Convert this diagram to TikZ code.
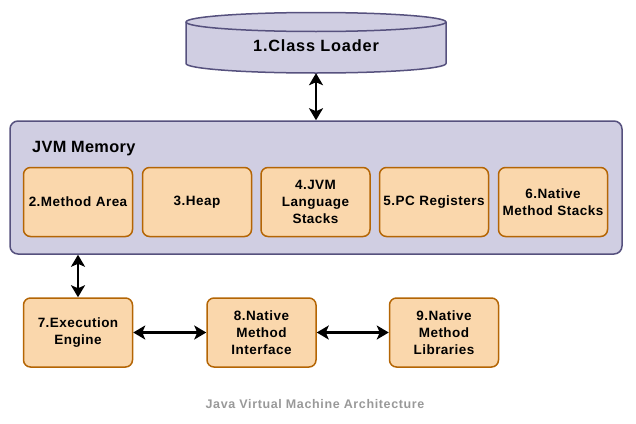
\documentclass[tikz,border=0pt]{standalone}
\usepackage{fontspec}
\setmainfont{Liberation Sans}
\usetikzlibrary{arrows.meta}
\definecolor{memfill}{HTML}{D0CEE2}
\definecolor{memdraw}{HTML}{56517E}
\definecolor{boxfill}{HTML}{FAD7AC}
\definecolor{boxdraw}{HTML}{B46504}
\definecolor{captioncol}{HTML}{999999}
\newfontfamily\boxfont[LetterSpace=3.5]{Liberation Sans Bold}
\newfontfamily\titlefont[LetterSpace=5]{Liberation Sans Bold}
\newfontfamily\memfont[LetterSpace=2]{Liberation Sans Bold}
\newfontfamily\capfont[LetterSpace=5]{Liberation Sans Bold}
\begin{document}
\begin{tikzpicture}[x=1pt,y=-1pt,
  membox/.style={draw=memdraw, fill=memfill, line width=1.5pt, rounded corners=8pt,
    minimum width=612pt, minimum height=133pt, inner sep=0pt},
  unit/.style={draw=boxdraw, fill=boxfill, line width=1.5pt, rounded corners=7pt,
    minimum width=109pt, minimum height=69pt, text width=107pt, align=center,
    font=\boxfont\fontsize{13.5}{16.7}\selectfont, inner sep=0pt},
  cyl/.style={draw=memdraw, fill=memfill, line width=1.5pt},
  biarrow/.style={line width=2.5pt, {Stealth[length=12pt,width=14pt,inset=3pt]}-{Stealth[length=12pt,width=14pt,inset=3pt]}},
  title/.style={inner sep=0pt}
]
\useasboundingbox (0,0) rectangle (636,423);
% Class loader cylinder
\draw[cyl] (186,22) -- (186,63.5) arc[start angle=180,end angle=360,x radius=130pt,y radius=9.5pt]
  -- (446,22) arc[start angle=0,end angle=180,x radius=130pt,y radius=9.5pt] -- cycle;
\draw[cyl, fill=none] (186,22) arc[start angle=180,end angle=360,x radius=130pt,y radius=9.5pt];
\node[title, minimum width=260pt, minimum height=60pt] (cl) at (316,43) {};
\node[title, font=\titlefont\fontsize{16.3}{19}\selectfont] (cltext) at (316,46) {1.Class Loader};
% JVM memory
\node[membox] (mem) at (316,187.5) {};
\node[title, anchor=west, font=\memfont\fontsize{16.3}{19}\selectfont] (memlabel) at (32,149) {JVM Memory};
\node[unit] (ma) at (78,202) {2.Method Area};
\node[unit] (hp) at (197,202) {3.Heap};
\node[unit] (js) at (315.5,202) {4.JVM\\Language\\Stacks};
\node[unit] (pc) at (434,202) {5.PC Registers};
\node[unit] (ns) at (553,202) {6.Native\\Method Stacks};
% bottom row
\node[unit] (ee) at (78,332.5) {7.Execution\\Engine};
\node[unit] (nmi) at (261.5,332.5) {8.Native\\Method\\Interface};
\node[unit] (nml) at (444,332.5) {9.Native\\Method\\Libraries};
% arrows
\draw[biarrow] (cl.south) -- (cl.south |- mem.north);
\draw[biarrow] (ee |- mem.south) -- (ee.north);
\draw[biarrow] (ee.east) -- (nmi.west);
\draw[biarrow] (nmi.east) -- (nml.west);
% caption
\node[font=\capfont\fontsize{12.5}{15}\selectfont, text=captioncol, inner sep=0pt] (cap) at (315,404) {Java Virtual Machine Architecture};
\end{tikzpicture}
\end{document}
